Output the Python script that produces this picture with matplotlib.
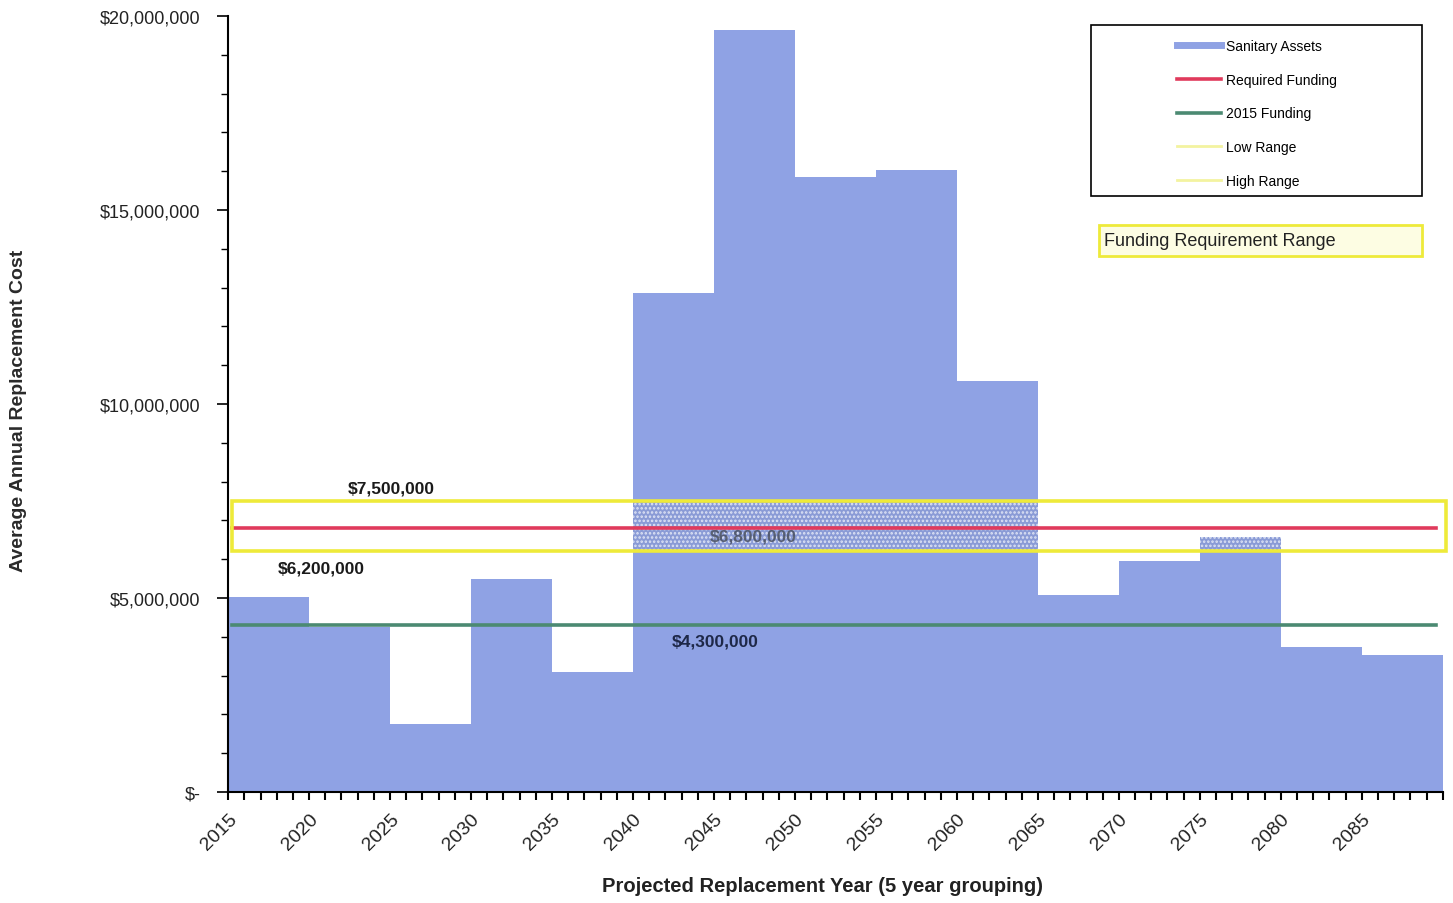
import matplotlib
matplotlib.use("Agg")
import matplotlib.pyplot as plt
from matplotlib.patches import Rectangle
from matplotlib.lines import Line2D
from matplotlib.ticker import FuncFormatter, MultipleLocator

plt.rcParams['font.family'] = ['Liberation Sans', 'DejaVu Sans']
plt.rcParams['hatch.linewidth'] = 1.2

# average annual replacement cost per 5-year group (start year of group)
periods = [2015, 2020, 2025, 2030, 2035, 2040, 2045, 2050,
           2055, 2060, 2065, 2070, 2075, 2080, 2085]
costs = [5.03e6, 4.25e6, 1.75e6, 5.49e6, 3.09e6, 12.86e6, 19.64e6, 15.84e6,
         16.02e6, 10.58e6, 5.08e6, 5.95e6, 6.57e6, 3.74e6, 3.52e6]
group_width = 5

required_funding = 6_800_000
funding_2015 = 4_300_000
low_range = 6_200_000
high_range = 7_500_000

year_labels = list(range(2015, 2090, 5))

BAR = "#8fa2e4"
RED = "#e03a5c"
GREEN = "#4b8a72"
YELLOW = "#eeea3a"
PALE_YELLOW = "#f3f3a0"

fig = plt.figure(figsize=(14.53, 9.04), dpi=100)
ax = fig.add_axes([0.157, 0.1228, 0.836, 0.8584])

ax.bar(periods, costs, width=group_width, align="edge", color=BAR,
       linewidth=0, zorder=2)

# dotted overlay where bars pass through the funding range
for x, v in zip(periods, costs):
    if v > low_range:
        top = min(v, high_range)
        ax.add_patch(Rectangle((x, low_range), group_width, top - low_range,
                               facecolor="#8a9bd6", edgecolor="#dfe4f5",
                               hatch="....", linewidth=0, zorder=4))

x0, x1 = 2015.25, 2089.6
ax.plot([x0, x1], [required_funding] * 2, color=RED, lw=2.6, zorder=5)
ax.plot([x0, x1], [funding_2015] * 2, color=GREEN, lw=2.6, zorder=5)

# funding requirement band outline
ax.add_patch(Rectangle((x0, low_range), 2090.2 - x0, high_range - low_range,
                       facecolor="none", edgecolor=YELLOW, lw=2.6,
                       zorder=6, clip_on=False))

ax.text(2025.1, high_range + 0.33e6, f"${high_range:,.0f}", ha="center",
        va="center", fontsize=12.5, fontweight="bold", color="#1a1a1a",
        zorder=7)
ax.text(2020.75, low_range - 0.43e6, f"${low_range:,.0f}", ha="center",
        va="center", fontsize=12.5, fontweight="bold", color="#1a1a1a",
        zorder=7)
ax.text(2047.4, required_funding - 0.2e6, f"${required_funding:,.0f}",
        ha="center", va="center", fontsize=12.5, fontweight="bold",
        color="#4a5060", alpha=0.85, zorder=4.5)
ax.text(2045.1, funding_2015 - 0.41e6, f"${funding_2015:,.0f}", ha="center",
        va="center", fontsize=12.5, fontweight="bold", color="#1e2848",
        zorder=7)

ax.set_xlim(2015, 2090)
ax.set_ylim(0, 20_000_000)

ax.set_xticks(year_labels)
ax.set_xticklabels([str(y) for y in year_labels], rotation=45, ha="right",
                   rotation_mode="anchor", fontsize=14, color="#222222")
ax.xaxis.set_minor_locator(MultipleLocator(1))
ax.tick_params(axis="x", which="both", direction="out", length=6, width=1.5,
               pad=7)

ax.yaxis.set_major_locator(MultipleLocator(5_000_000))
ax.yaxis.set_minor_locator(MultipleLocator(1_000_000))
ax.yaxis.set_major_formatter(FuncFormatter(
    lambda v, p: "$-" if v == 0 else f"${v:,.0f}"))
ax.tick_params(axis="y", which="major", direction="out", length=8, width=1.2,
               pad=12, labelsize=13, labelcolor="#222222")
ax.tick_params(axis="y", which="minor", direction="out", length=5, width=1.0)

for s in ("top", "right"):
    ax.spines[s].set_visible(False)
ax.spines["left"].set_linewidth(1.5)
ax.spines["bottom"].set_linewidth(1.5)

fig.text(0.566, 0.019, "Projected Replacement Year (5 year grouping)",
         ha="center", va="center", fontsize=14.5, fontweight="bold",
         color="#222222")
fig.text(0.0125, 0.545, "Average Annual Replacement Cost", rotation=90,
         ha="center", va="center", fontsize=14, fontweight="bold",
         color="#2a2a2a")

# legend: framed box with the entries centred inside it
fig.patches.append(Rectangle((0.751, 0.782), 0.228, 0.189,
                             transform=fig.transFigure, facecolor="white",
                             edgecolor="black", lw=1.2, zorder=8))
handles = [
    Line2D([], [], color=BAR, lw=5),
    Line2D([], [], color=RED, lw=2.6),
    Line2D([], [], color=GREEN, lw=2.6),
    Line2D([], [], color=PALE_YELLOW, lw=2),
    Line2D([], [], color=PALE_YELLOW, lw=2),
]
labels = ["Sanitary Assets", "Required Funding", "2015 Funding",
          "Low Range", "High Range"]
leg = fig.legend(handles, labels, loc="upper left",
                 bbox_to_anchor=(1177 / 1453, 1 - 40 / 904),
                 frameon=False, fontsize=10, handlelength=3.2,
                 handletextpad=0.35, labelspacing=1.42, borderpad=0,
                 borderaxespad=0)
leg.set_zorder(9)

fig.patches.append(Rectangle((1099 / 1453, 1 - 257 / 904), 323 / 1453,
                             31 / 904, transform=fig.transFigure,
                             facecolor="#fdfde3", edgecolor=YELLOW, lw=2,
                             zorder=8))
fig.text(1104 / 1453, 1 - 241 / 904, "Funding Requirement Range",
         ha="left", va="center", fontsize=13, color="#222222", zorder=9)

fig.savefig("out.png", dpi=100)
